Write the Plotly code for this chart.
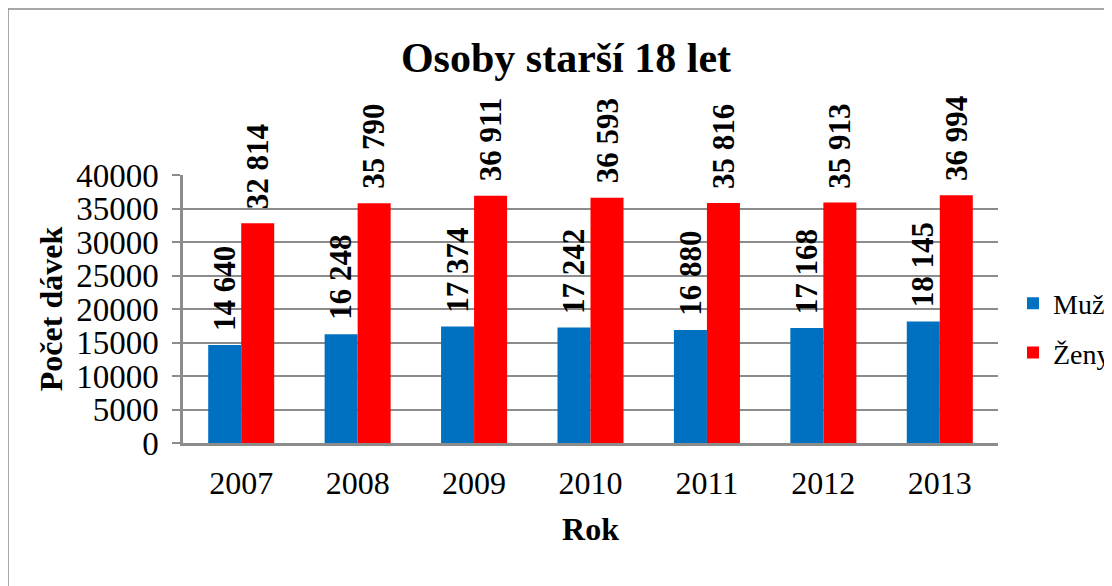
import plotly.graph_objects as go

years = ["2007", "2008", "2009", "2010", "2011", "2012", "2013"]
muzi = [14640, 16248, 17374, 17242, 16880, 17168, 18145]
zeny = [32814, 35790, 36911, 36593, 35816, 35913, 36994]
series_names = ["Muži", "Ženy"]
colors = ["#0070C0", "#FF0000"]
y_ticks = [0, 5000, 10000, 15000, 20000, 25000, 30000, 35000, 40000]

FONT = "Liberation Serif, Times New Roman, serif"
GRID = "#8C8C8C"

OFF = 8  # page body margin
W, H = 1112, 586
L, R, T, B = 183 - OFF, W - (998 - OFF), 175 - OFF, H - (443 - OFF)
PW, PH = W - L - R, H - T - B

def px_x(p):
    return (p - OFF - L) / PW

def px_y(p):
    return (H - B - (p - OFF)) / PH

def fmt(v):
    return f"{v:,}".replace(",", " ")

fig = go.Figure()
for i, (name, vals) in enumerate(zip(series_names, [muzi, zeny])):
    fig.add_trace(go.Bar(
        x=years, y=vals, name=name, marker_color=colors[i],
        marker_line_width=0, legendgroup=name,
    ))

bar_px = PW / len(years) * (1 - 0.433) / 2
annotations = []
for i, vals in enumerate([muzi, zeny]):
    shift = (-0.5 if i == 0 else 0.5) * bar_px
    for k, v in enumerate(vals):
        annotations.append(dict(
            x=k, y=v, xref="x", yref="y", text=fmt(v), showarrow=False,
            textangle=-90, xanchor="center", yanchor="bottom",
            xshift=shift, yshift=12,
            font=dict(family=FONT, size=31, color="black", weight="bold"),
        ))

fig.update_layout(
    width=W, height=H,
    margin=dict(l=L, r=R, t=T, b=B, autoexpand=False),
    paper_bgcolor="white", plot_bgcolor="white",
    barmode="group", bargap=0.433, bargroupgap=0,
    title=dict(text="<b>Osoby starší 18 let</b>", x=(566 - OFF) / W, xanchor="center",
               y=1 - (57 - OFF) / H, yanchor="middle",
               font=dict(family=FONT, size=42, color="black")),
    font=dict(family=FONT, color="black"),
    legend=dict(x=px_x(1013), y=px_y(328), xanchor="left", yanchor="middle",
                font=dict(family=FONT, size=28, color="black"),
                traceorder="grouped", tracegroupgap=10,
                bgcolor="rgba(0,0,0,0)"),
    annotations=annotations,
    shapes=[dict(type="rect", xref="paper", yref="paper",
                 x0=px_x(8), x1=px_x(1140), y0=px_y(620), y1=px_y(9),
                 line=dict(color="#8A8A8A", width=1.5), layer="below")],
    xaxis=dict(
        type="category", range=[-0.5, len(years) - 0.5],
        title=dict(text="<b>Rok</b>", font=dict(family=FONT, size=32, color="black"), standoff=18),
        tickfont=dict(family=FONT, size=32, color="black"),
        showline=True, linecolor=GRID, linewidth=2.5, ticks="",
        ticklabelstandoff=10, showgrid=False,
    ),
    yaxis=dict(
        title=dict(text="<b>Počet dávek</b>", font=dict(family=FONT, size=32, color="black"), standoff=4),
        tickfont=dict(family=FONT, size=33, color="black"),
        range=[0, 40000], tickvals=y_ticks, ticktext=[str(v) for v in y_ticks],
        showline=True, linecolor=GRID, linewidth=2.5,
        ticks="outside", ticklen=8, tickcolor=GRID, tickwidth=1.5,
        ticklabelstandoff=7,
        showgrid=True, gridcolor=GRID, gridwidth=1.5, zeroline=False,
    ),
)

fig.write_html("out.html")
